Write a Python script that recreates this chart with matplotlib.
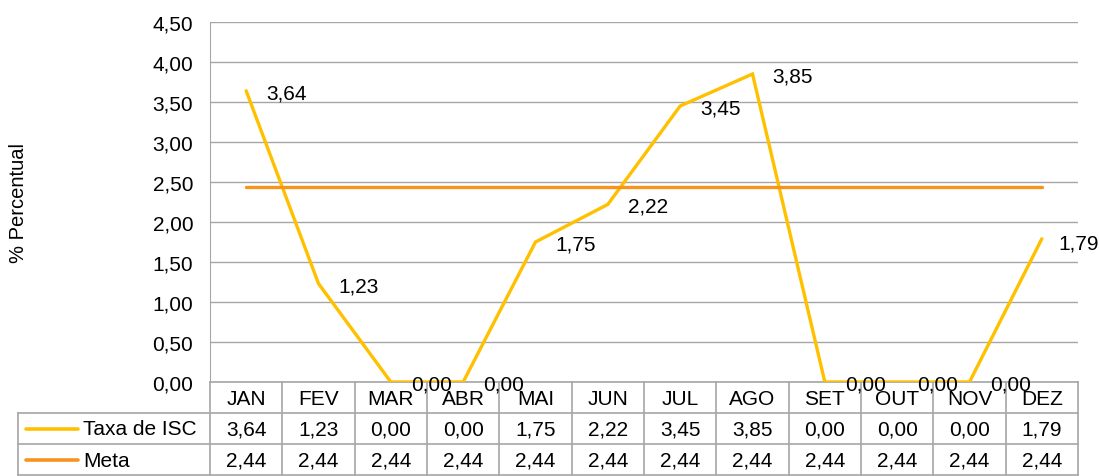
import matplotlib
matplotlib.use("Agg")
import matplotlib.pyplot as plt
from matplotlib.transforms import blended_transform_factory
from matplotlib.lines import Line2D

plt.rcParams['font.family'] = ['Liberation Sans', 'DejaVu Sans']

months = ["JAN", "FEV", "MAR", "ABR", "MAI", "JUN", "JUL", "AGO", "SET", "OUT", "NOV", "DEZ"]
taxa_isc = [3.64, 1.23, 0.00, 0.00, 1.75, 2.22, 3.45, 3.85, 0.00, 0.00, 0.00, 1.79]
meta = [2.44] * 12
series_names = ["Taxa de ISC", "Meta"]
yticks = [0, 0.5, 1.0, 1.5, 2.0, 2.5, 3.0, 3.5, 4.0, 4.5]

c_taxa = "#FFC000"
c_meta = "#F7941D"
grid_c = "#A6A6A6"
FS = 15

def fmt(v):
    return f"{v:.2f}".replace(".", ",")

W, H = 1099, 477
fig = plt.figure(figsize=(W / 100, H / 100), dpi=100)
L, R, T, B = 210, 1078, 23, 383
ax = fig.add_axes([L / W, 1 - B / H, (R - L) / W, (B - T) / H])

x = list(range(len(months)))
ax.plot(x, taxa_isc, color=c_taxa, lw=2.4, solid_joinstyle='miter', solid_capstyle='round', zorder=3)
ax.plot(x, meta, color=c_meta, lw=2.4, solid_capstyle='round', zorder=3)

last = len(months) - 1
for xi, v in zip(x, taxa_isc):
    off = (12.0, -3.0) if xi == last else (14.5, -1.5)
    ax.annotate(fmt(v), (xi, v), xytext=off, textcoords='offset points',
                ha='left', va='center', fontsize=FS, color='black', zorder=4)

ax.set_xlim(-0.5, len(months) - 0.5)
ax.set_ylim(0, 4.5)
ax.set_yticks(yticks)
ax.set_yticklabels([fmt(v) for v in yticks], fontsize=FS)
ax.tick_params(axis='y', length=0, pad=12)
ax.set_xticks([])
ax.yaxis.grid(True, color=grid_c, lw=1)
ax.set_axisbelow(True)
for s in ['top', 'right', 'bottom']:
    ax.spines[s].set_visible(False)
ax.spines['left'].set_color(grid_c)
fig.text(19 / W, 1 - 203 / H, "% Percentual", rotation=90, ha='center', va='center', fontsize=FS - 0.5)

# data table
ph = B - T
def ay(py):
    return (B - py) / ph

trans = blended_transform_factory(ax.transData, ax.transAxes)
ftrans = blended_transform_factory(fig.transFigure, ax.transAxes)
rows = [383, 413.5, 444.5, 476]
kw = dict(color=grid_c, lw=1.2, clip_on=False)
n = len(months)
ax.add_line(Line2D([-0.5, n - 0.5], [ay(rows[0])] * 2, transform=trans, **kw))
for r in rows[1:]:
    ax.add_line(Line2D([18 / W, R / W], [ay(r)] * 2, transform=ftrans, **kw))
for b in range(n + 1):
    ax.add_line(Line2D([b - 0.5] * 2, [ay(rows[0]), ay(rows[-1])], transform=trans, **kw))
ax.add_line(Line2D([18 / W] * 2, [ay(rows[1]), ay(rows[-1])], transform=ftrans, **kw))

for i, m in enumerate(months):
    ax.text(i, ay((rows[0] + rows[1]) / 2 + 1), m, transform=trans, ha='center', va='center', fontsize=FS)
for ri, (vals, col, name) in enumerate([(taxa_isc, c_taxa, series_names[0]), (meta, c_meta, series_names[1])]):
    yc = ay((rows[ri + 1] + rows[ri + 2]) / 2 + 1)
    for i, v in enumerate(vals):
        ax.text(i, yc, fmt(v), transform=trans, ha='center', va='center', fontsize=FS)
    ax.add_line(Line2D([26 / W, 78 / W], [yc] * 2, transform=ftrans, color=col, lw=2.6,
                       solid_capstyle='round', clip_on=False))
    ax.text(83 / W, yc, name, transform=ftrans, ha='left', va='center', fontsize=FS)

fig.savefig("out.png", dpi=100)
